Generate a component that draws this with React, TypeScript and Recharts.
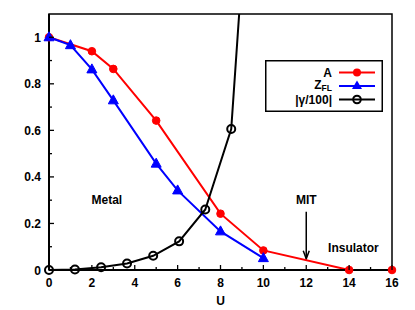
import React from 'react';
import { LineChart, Line, XAxis, YAxis, ReferenceArea, ReferenceDot, ReferenceLine, Legend } from 'recharts';

const aU = [0, 2, 3, 5, 8, 10, 14, 16];
const aVal = [1, 0.94, 0.864, 0.642, 0.242, 0.084, 0, 0];
const zU = [0, 1, 2, 3, 5, 6, 8, 10];
const zVal = [1, 0.966, 0.862, 0.729, 0.457, 0.342, 0.166, 0.051];
const gU = [0, 1.21, 2.43, 3.64, 4.86, 6.07, 7.29, 8.5, 9.71];
const gVal = [0, 0.002, 0.012, 0.028, 0.061, 0.123, 0.26, 0.606, 2.22];

const xTicks = [0, 1, 2, 3, 4, 5, 6, 7, 8, 9, 10, 11, 12, 13, 14, 15, 16];
const yTicks = [0, 0.1, 0.2, 0.3, 0.4, 0.5, 0.6, 0.7, 0.8, 0.9, 1.0];
const yMajor = ['0', '0.2', '0.4', '0.6', '0.8', '1'];

const aData = aU.map((u, i) => ({ u, v: aVal[i] }));
const zData = zU.map((u, i) => ({ u, v: zVal[i] }));
const gData = gU.map((u, i) => ({ u, v: gVal[i] }));

const FONT = 'Liberation Sans, Arial, Helvetica, sans-serif';

const XTick = (props: any) => {
  const { x, y, payload } = props;
  const v = payload.value;
  const major = Math.round(v) % 2 === 0;
  return (
    <g>
      <line x1={x} y1={y} x2={x} y2={y - (major ? 5 : 3)} stroke="#000" strokeWidth={1.3} />
      {major && (
        <text x={x} y={y + 17} textAnchor="middle" fontFamily={FONT} fontWeight="bold" fontSize={12} fill="#000">
          {v}
        </text>
      )}
    </g>
  );
};

const YTick = (props: any) => {
  const { x, y, index } = props;
  const major = index % 2 === 0;
  return (
    <g>
      <line x1={x} y1={y} x2={x + (major ? 5 : 3)} y2={y} stroke="#000" strokeWidth={1.3} />
      {major && (
        <text x={x - 8} y={y + 4.5} textAnchor="end" fontFamily={FONT} fontWeight="bold" fontSize={12} fill="#000">
          {yMajor[index / 2]}
        </text>
      )}
    </g>
  );
};

const TriDot = (props: any) => {
  const { cx, cy } = props;
  if (cx == null || cy == null) return null;
  return <polygon points={`${cx},${cy - 5.5} ${cx - 5},${cy + 3.5} ${cx + 5},${cy + 3.5}`} fill="#0000ff" stroke="#0000ff" strokeWidth={1} />;
};

const ArrowShape = (props: any) => {
  const { x1, y1, x2, y2 } = props;
  if (x1 == null) return null;
  return (
    <g>
      <line x1={x1} y1={y1} x2={x2} y2={y2} stroke="#000" strokeWidth={1.5} />
      <path d={`M${x2 - 3},${y2 - 8} L${x2},${y2} L${x2 + 3},${y2 - 8}`} fill="none" stroke="#000" strokeWidth={1.5} />
    </g>
  );
};

const LegendBox = () => (
  <svg width={118} height={52} style={{ display: 'block' }}>
    <rect x={0.75} y={0.75} width={116.5} height={50.5} fill="#fff" stroke="#000" strokeWidth={1.5} />
    <text x={67} y={17} textAnchor="end" fontFamily={FONT} fontWeight="bold" fontSize={12}>A</text>
    <line x1={74} y1={12.5} x2={110} y2={12.5} stroke="#ff0000" strokeWidth={2} />
    <circle cx={92} cy={12.5} r={4} fill="#ff0000" />
    <text x={67} y={28.5} textAnchor="end" fontFamily={FONT} fontWeight="bold" fontSize={12}>
      Z<tspan fontSize={8.5} dy={2.5}>FL</tspan>
    </text>
    <line x1={74} y1={26} x2={110} y2={26} stroke="#0000ff" strokeWidth={2} />
    <polygon points="92,20.5 87,29 97,29" fill="#0000ff" />
    <text x={67} y={43.5} textAnchor="end" fontFamily={FONT} fontWeight="bold" fontSize={12}>|γ/100|</text>
    <line x1={74} y1={39.5} x2={110} y2={39.5} stroke="#000" strokeWidth={2} />
    <circle cx={92} cy={39.5} r={3.8} fill="none" stroke="#000" strokeWidth={2} />
  </svg>
);

const labelStyle = { fontFamily: FONT, fontWeight: 'bold', fontSize: 12, fill: '#000' } as any;

export default function App() {
  return (
    <div style={{ position: 'absolute', left: 0, top: 0, width: 415, height: 310, background: '#fff' }}>
      <LineChart width={415} height={310} margin={{ top: 14, right: 23, bottom: 0, left: 9 }}>
        <XAxis
          type="number"
          dataKey="u"
          domain={[0, 16]}
          ticks={xTicks}
          interval={0}
          tick={<XTick />}
          tickSize={0}
          tickMargin={0}
          tickLine={false}
          axisLine={{ stroke: '#000', strokeWidth: 2 }}
          height={40}
          label={{ value: 'U', position: 'insideBottom', offset: 5, style: labelStyle }}
        />
        <YAxis
          yAxisId="main"
          type="number"
          domain={[0, 1.1]}
          ticks={yTicks}
          interval={0}
          tick={<YTick />}
          tickSize={0}
          tickMargin={0}
          tickLine={false}
          axisLine={{ stroke: '#000', strokeWidth: 2 }}
          width={40}
        />
        <YAxis yAxisId="g" type="number" domain={[0, 1.1]} ticks={yTicks} allowDataOverflow
          width={0} tick={false} axisLine={false} tickLine={false} />
        <ReferenceArea yAxisId="main" x1={0} x2={16} y1={0} y2={1.1} fill="none" stroke="#000" strokeWidth={1.5} ifOverflow="visible" />
        <ReferenceDot yAxisId="main" x={2.7} y={0.3} r={0} fill="none" stroke="none" label={{ value: 'Metal', position: 'center', style: labelStyle }} />
        <ReferenceDot yAxisId="main" x={12} y={0.3} r={0} fill="none" stroke="none" label={{ value: 'MIT', position: 'center', style: labelStyle }} />
        <ReferenceDot yAxisId="main" x={14.2} y={0.095} r={0} fill="none" stroke="none" label={{ value: 'Insulator', position: 'center', style: labelStyle }} />
        <ReferenceLine yAxisId="main" segment={[{ x: 12, y: 0.25 }, { x: 12, y: 0.048 }]} shape={<ArrowShape />} />
        <Line yAxisId="main" data={aData} dataKey="v" stroke="#ff0000" strokeWidth={2} isAnimationActive={false}
          dot={{ r: 3.8, fill: '#ff0000', stroke: '#ff0000', strokeWidth: 1 }} />
        <Line yAxisId="main" data={zData} dataKey="v" stroke="#0000ff" strokeWidth={2} isAnimationActive={false} dot={<TriDot />} />
        <Line yAxisId="g" data={gData} dataKey="v" stroke="#000" strokeWidth={2} isAnimationActive={false}
          dot={{ r: 4, fill: 'none', stroke: '#000', strokeWidth: 2, clipDot: false } as any} />
        <Legend layout="horizontal" verticalAlign="middle" align="center" content={<LegendBox />}
          wrapperStyle={{ position: 'absolute', left: 265, top: 60, width: 118, height: 52 }} />
      </LineChart>
    </div>
  );
}
